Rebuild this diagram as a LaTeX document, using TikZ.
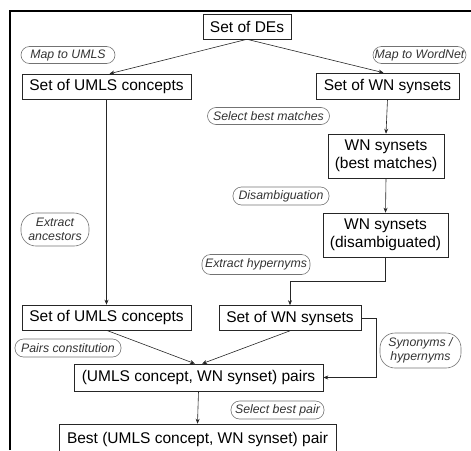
\documentclass[tikz,border=0pt]{standalone}
\usepackage{fontspec}
\setmainfont{Liberation Sans}
\usetikzlibrary{arrows.meta}

\begin{document}
\begin{tikzpicture}[x=1pt,y=1pt,
  box/.style={draw=black!85,line width=0.6pt,align=center,font=\fontsize{15.5}{18.5}\selectfont},
  tag/.style={draw=black!55,line width=0.6pt,rounded corners=8.5pt,align=center,text=black!80,font=\fontsize{12.3}{14.5}\selectfont\itshape},
  flow/.style={draw=black!85,line width=0.6pt,-{Stealth[length=5pt,width=4pt]}}]
\tikzstyle{every node}+=[inner sep=0pt]
\useasboundingbox (0,0) rectangle (471,-450);
\clip (0,0) rectangle (471,-450);
\draw[line width=2.6pt] (10,-450) -- (10,-11) -- (471,-11);

\draw (247,-26.5) node[box,minimum width=88,minimum height=25] (des) {Set of DEs};
\draw (106.5,-86.5) node[box,minimum width=169,minimum height=25] (umlstop) {Set of UMLS concepts};
\draw (387.5,-86) node[box,minimum width=143,minimum height=26] (wntop) {Set of WN synsets};
\draw (386,-156) node[box,minimum width=116,minimum height=44] (wnbest) {WN synsets\\(best matches)};
\draw (385.5,-235) node[box,minimum width=125,minimum height=44] (wndis) {WN synsets\\(disambiguated)};
\draw (106.5,-317.5) node[box,minimum width=169,minimum height=25] (umlsbot) {Set of UMLS concepts};
\draw (290,-318) node[box,minimum width=142,minimum height=25] (wnbot) {Set of WN synsets};
\draw (198.5,-377.5) node[box,minimum width=249,minimum height=27] (pairs) {(UMLS concept, WN synset) pairs};
\draw (197.5,-439) node[box,minimum width=277,minimum height=30] (best) {Best (UMLS concept, WN synset) pair};

\draw (68,-55) node[tag,minimum width=94,minimum height=17] (mapumls) {Map to UMLS};
\draw (419.5,-55) node[tag,minimum width=93,minimum height=17] (mapwn) {Map to WordNet};
\draw (268.5,-116) node[tag,minimum width=122,minimum height=17] (selmatch) {Select best matches};
\draw (281,-196) node[tag,minimum width=96,minimum height=18] (disamb) {Disambiguation};
\draw (55,-229.5) node[tag,rounded corners=15pt,minimum width=68,minimum height=33] (ancest) {Extract\\ancestors};
\draw (256,-264.5) node[tag,minimum width=108,minimum height=20] (hyper) {Extract hypernyms};
\draw (68,-348) node[tag,minimum width=106,minimum height=18] (pairscon) {Pairs constitution};
\draw (420.5,-350.5) node[tag,rounded corners=15pt,minimum width=81,minimum height=35] (synhyp) {Synonyms /\\hypernyms};
\draw (277.5,-410) node[tag,minimum width=93,minimum height=18] (selpair) {Select best pair};

\draw[flow] (des.south) -- ([xshift=3pt]umlstop.north);
\draw[flow] (des.south) -- ([xshift=-4pt]wntop.north);
\draw[flow] (wntop.south) -- (wnbest.north);
\draw[flow] (wnbest.south) -- (wndis.north);
\draw[flow] (wndis.south) -- ++(0,-24) -| (wnbot.north);
\draw[flow] (umlstop.south) -- (umlsbot.north);
\draw[flow] (umlsbot.south) -- ([xshift=-3.5pt]pairs.north);
\draw[flow] (wnbot.south) -- ([xshift=3.5pt]pairs.north);
\draw[flow] (wnbot.east) -- ++(15,0) |- (pairs.east);
\draw[flow] (pairs.south) -- (best.north);

\end{tikzpicture}
\end{document}
